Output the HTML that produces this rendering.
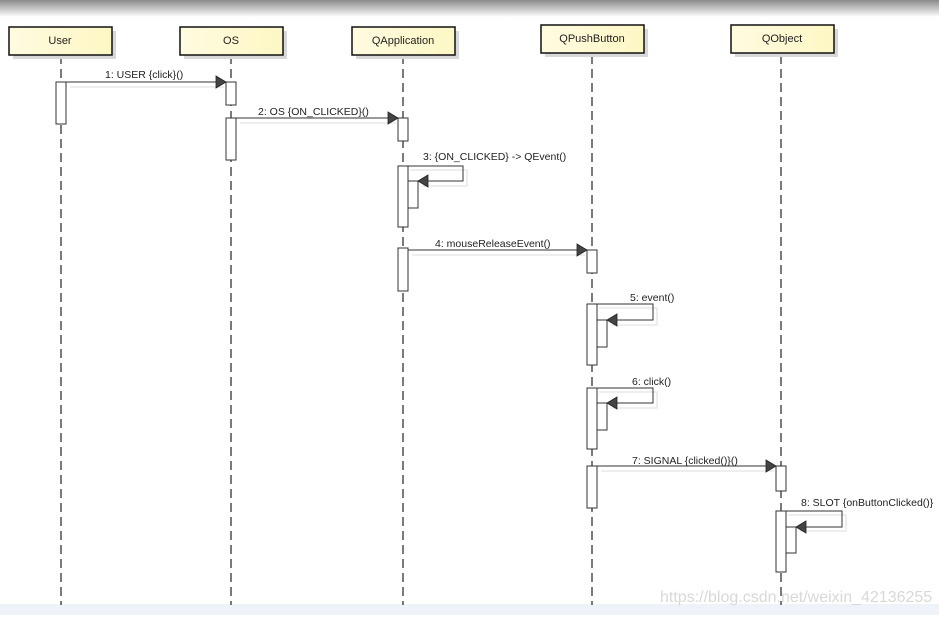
<!DOCTYPE html>
<html><head><meta charset="utf-8"><style>
body{margin:0;width:939px;height:615px;overflow:hidden;background:#fff;font-family:"Liberation Sans",sans-serif}
</style></head><body>
<svg width="939" height="615" viewBox="0 0 939 615" xmlns="http://www.w3.org/2000/svg" font-family="Liberation Sans, sans-serif" font-size="10.5">
<defs>
<linearGradient id="tg" x1="0" y1="0" x2="0" y2="1"><stop offset="0" stop-color="#8a8a8a"/><stop offset="1" stop-color="#fff"/></linearGradient>
<linearGradient id="bx" x1="0" y1="0" x2="1" y2="0"><stop offset="0" stop-color="#fffbe0"/><stop offset="1" stop-color="#fdf7c4"/></linearGradient>
</defs>
<rect x="0" y="0" width="939" height="17" fill="url(#tg)"/>
<rect x="0" y="604" width="939" height="11" fill="#eef3fa"/>
<g stroke="#222" stroke-width="1.2" stroke-dasharray="9,5" fill="none">
<line x1="61" y1="55" x2="61" y2="605"/><line x1="231" y1="55" x2="231" y2="605"/>
<line x1="403" y1="55" x2="403" y2="605"/><line x1="592" y1="55" x2="592" y2="605"/>
<line x1="781" y1="55" x2="781" y2="605"/>
</g>
<g fill="#d8d8d8">
<rect x="13" y="31" width="103" height="28"/><rect x="184" y="31" width="103" height="28"/><rect x="356" y="31" width="103" height="28"/><rect x="545" y="29" width="103" height="28"/><rect x="735" y="29" width="103" height="28"/>
</g>
<g fill="url(#bx)" stroke="#111" stroke-width="1.5">
<rect x="9" y="27" width="103" height="28"/><rect x="180" y="27" width="103" height="28"/><rect x="352" y="27" width="103" height="28"/><rect x="541" y="25" width="103" height="28"/><rect x="731" y="25" width="103" height="28"/>
</g>
<g text-anchor="middle" font-size="11" fill="#222">
<text x="60" y="44">User</text><text x="231" y="44">OS</text><text x="403" y="44">QApplication</text><text x="592" y="42">QPushButton</text><text x="782" y="42">QObject</text>
</g>
<g fill="#fff" stroke="#333" stroke-width="1">
<rect x="56" y="82" width="10" height="42"/>
<rect x="226" y="82" width="10" height="23"/><rect x="226" y="118" width="10" height="42"/>
<rect x="398" y="118" width="10" height="23"/><rect x="398" y="166" width="10" height="61"/><rect x="408" y="181" width="10" height="27"/>
<rect x="398" y="248" width="10" height="43"/>
<rect x="587" y="250" width="10" height="23"/>
<rect x="587" y="304" width="10" height="61"/><rect x="597" y="320" width="10" height="27"/>
<rect x="587" y="388" width="10" height="61"/><rect x="597" y="403" width="10" height="27"/>
<rect x="587" y="466" width="10" height="42"/>
<rect x="776" y="466" width="10" height="25"/>
<rect x="776" y="511" width="10" height="61"/><rect x="786" y="527" width="10" height="26"/>
</g>
<g stroke="#ddd" stroke-width="1" fill="none">
<line x1="70" y1="87" x2="224" y2="87"/><line x1="240" y1="123" x2="396" y2="123"/>
<line x1="412" y1="255" x2="585" y2="255"/><line x1="601" y1="471" x2="774" y2="471"/>
<polyline points="410,170 467,170 467,186 422,186"/><polyline points="599,308 657,308 657,325 611,325"/>
<polyline points="599,392 657,392 657,408 611,408"/><polyline points="788,515 846,515 846,531 800,531"/>
</g>
<g stroke="#333" stroke-width="1" fill="none">
<line x1="66" y1="82" x2="216" y2="82"/><line x1="236" y1="118" x2="388" y2="118"/>
<line x1="408" y1="250" x2="577" y2="250"/><line x1="597" y1="466" x2="766" y2="466"/>
<polyline points="408,166 463,166 463,181 428,181"/><polyline points="597,304 653,304 653,320 617,320"/>
<polyline points="597,388 653,388 653,403 617,403"/><polyline points="786,511 842,511 842,527 806,527"/>
</g>
<g fill="#444" stroke="#222" stroke-width="0.8">
<polygon points="216,76 226,82 216,88"/><polygon points="388,112 398,118 388,124"/>
<polygon points="577,244 587,250 577,256"/><polygon points="766,460 776,466 766,472"/>
<polygon points="428,175 418,181 428,187"/><polygon points="617,314 607,320 617,326"/>
<polygon points="617,397 607,403 617,409"/><polygon points="806,521 796,527 806,533"/>
</g>
<g fill="#222">
<text x="105" y="78">1: USER {click}()</text>
<text x="258" y="115">2: OS {ON_CLICKED}()</text>
<text x="423" y="160">3: {ON_CLICKED} -&gt; QEvent()</text>
<text x="435" y="247">4: mouseReleaseEvent()</text>
<text x="630" y="301">5: event()</text>
<text x="632" y="385">6: click()</text>
<text x="632" y="464">7: SIGNAL {clicked()}()</text>
<text x="801" y="506">8: SLOT {onButtonClicked()}</text>
</g>
<text x="660" y="602" font-size="16" fill="#d8d8d8">https://blog.csdn.net/weixin_42136255</text>
</svg>
</body></html>
